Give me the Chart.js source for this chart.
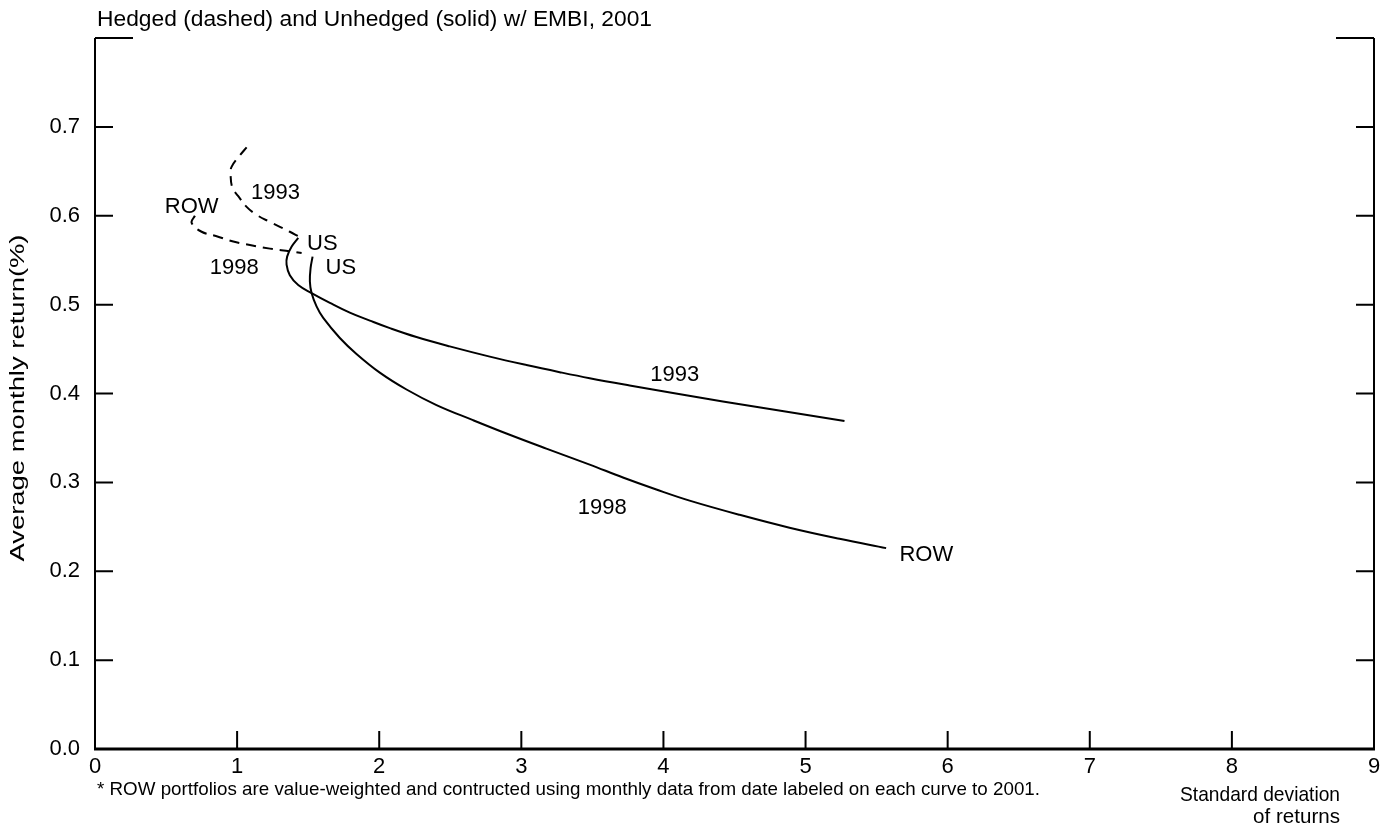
<!DOCTYPE html>
<html>
<head>
<meta charset="utf-8">
<script src="https://cdn.jsdelivr.net/npm/chart.js@4/dist/chart.umd.min.js"></script>
<style>
  body { margin: 0; background: #fff; }
  #wrap { width: 1390px; height: 827px; }
</style>
</head>
<body>
<div id="wrap"><canvas id="frontierChart" width="1390" height="827"></canvas></div>
<script>
// Unhedged (solid) frontiers, from the US point out to ROW
const unhedged93Sd  = [1.430, 1.383, 1.352, 1.348, 1.371, 1.430, 1.524, 1.653, 1.793, 1.934, 2.075, 2.262, 2.496, 2.778, 3.036, 3.270, 3.481, 3.762, 4.067, 4.418, 4.770, 5.274];
const unhedged93Ret = [0.575, 0.565, 0.554, 0.545, 0.533, 0.522, 0.513, 0.502, 0.491, 0.482, 0.4735, 0.4635, 0.453, 0.4415, 0.432, 0.424, 0.4172, 0.409, 0.4005, 0.391, 0.382, 0.369];

const unhedged98Sd  = [1.531, 1.517, 1.512, 1.524, 1.559, 1.606, 1.723, 1.840, 2.004, 2.192, 2.403, 2.660, 2.895, 3.176, 3.481, 3.715, 3.950, 4.184, 4.536, 4.887, 5.239, 5.567];
const unhedged98Ret = [0.554, 0.541, 0.526, 0.513, 0.498, 0.485, 0.4625, 0.4445, 0.4235, 0.4045, 0.387, 0.370, 0.355, 0.338, 0.320, 0.3055, 0.292, 0.2795, 0.2635, 0.249, 0.2365, 0.226];

// Hedged (dashed) frontiers, from ROW to the US point
const hedged93Sd  = [1.067, 1.020, 0.961, 0.954, 0.968, 1.008, 1.067, 1.137, 1.231, 1.371, 1.430];
const hedged93Ret = [0.677, 0.668, 0.655, 0.646, 0.631, 0.622, 0.610, 0.601, 0.593, 0.582, 0.577];

const hedged98Sd  = [0.703, 0.680, 0.750, 0.856, 0.973, 1.090, 1.231, 1.371, 1.454];
const hedged98Ret = [0.600, 0.592, 0.582, 0.577, 0.571, 0.567, 0.563, 0.560, 0.558];

// axis ticks
const xTicks = [0, 1, 2, 3, 4, 5, 6, 7, 8, 9];
const yTicks = [0.0, 0.1, 0.2, 0.3, 0.4, 0.5, 0.6, 0.7, 0.8];

// text written next to the curves (in data units)
const curveLabels = [
    { text: 'ROW',  sd: 0.68, ret: 0.610 },
    { text: '1993', sd: 1.27, ret: 0.626 },
    { text: '1998', sd: 0.98, ret: 0.541 },
    { text: 'US',   sd: 1.60, ret: 0.568 },
    { text: 'US',   sd: 1.73, ret: 0.541 },
    { text: '1993', sd: 4.08, ret: 0.421 },
    { text: '1998', sd: 3.57, ret: 0.271 },
    { text: 'ROW',  sd: 5.85, ret: 0.218 }
];

const FONT = '"Liberation Sans", Arial, sans-serif';

function toPoints(xs, ys) {
    return xs.map((x, i) => ({ x: x, y: ys[i] }));
}

function fitText(ctx, text, x, y, size, width, align, angle) {
    ctx.save();
    ctx.font = size + 'px ' + FONT;
    const sx = width / ctx.measureText(text).width;
    ctx.translate(x, y);
    if (angle) ctx.rotate(angle);
    ctx.scale(sx, 1);
    ctx.textAlign = align;
    ctx.fillStyle = '#000';
    ctx.fillText(text, 0, 0);
    ctx.restore();
}

// axes frame, inward ticks and all the loose text
const framePlugin = {
    id: 'frame',
    afterDraw(chart) {
        const ctx = chart.ctx;
        const a = chart.chartArea;
        const xs = chart.scales.x;
        const ys = chart.scales.y;

        ctx.save();
        ctx.strokeStyle = '#000';
        ctx.lineCap = 'butt';

        ctx.lineWidth = 2;
        ctx.beginPath();
        ctx.moveTo(a.left, a.top); ctx.lineTo(a.left, a.bottom);
        ctx.moveTo(a.right, a.top); ctx.lineTo(a.right, a.bottom);
        ctx.stroke();

        ctx.lineWidth = 3;
        ctx.beginPath();
        ctx.moveTo(a.left - 1, a.bottom); ctx.lineTo(a.right + 1, a.bottom);
        ctx.stroke();

        ctx.lineWidth = 2;
        ctx.beginPath();
        yTicks.forEach(v => {
            if (v === 0) return;
            const py = ys.getPixelForValue(v);
            const len = v >= 0.8 ? 38 : 18;
            ctx.moveTo(a.left, py); ctx.lineTo(a.left + len, py);
            ctx.moveTo(a.right, py); ctx.lineTo(a.right - len, py);
        });
        xTicks.forEach(v => {
            if (v === 0 || v === 9) return;
            const px = xs.getPixelForValue(v);
            ctx.moveTo(px, a.bottom); ctx.lineTo(px, a.bottom - 18);
        });
        ctx.stroke();

        ctx.fillStyle = '#000';
        ctx.font = '22px ' + FONT;
        ctx.textAlign = 'center';
        ctx.textBaseline = 'middle';
        curveLabels.forEach(l => {
            ctx.fillText(l.text, xs.getPixelForValue(l.sd), ys.getPixelForValue(l.ret));
        });
        ctx.textBaseline = 'alphabetic';

        fitText(ctx, 'Hedged (dashed) and Unhedged (solid) w/ EMBI, 2001', 97, 26, 22, 555, 'left');
        fitText(ctx, '* ROW portfolios are value-weighted and contructed using monthly data from date labeled on each curve to 2001.', 97, 795, 19, 943, 'left');
        fitText(ctx, 'Standard deviation', 1340, 801, 21, 160, 'right');
        fitText(ctx, 'of returns', 1340, 823, 21, 87, 'right');

        ctx.textBaseline = 'middle';
        fitText(ctx, 'Average monthly return(%)', 18, 398, 20, 327, 'center', -Math.PI / 2);
        ctx.restore();
    }
};

const solid = { borderColor: '#000', borderWidth: 2, pointRadius: 0, showLine: true, fill: false, tension: 0.4 };
const dashed = Object.assign({}, solid, { borderDash: [10, 7] });

new Chart(document.getElementById('frontierChart').getContext('2d'), {
    type: 'scatter',
    data: {
        datasets: [
            Object.assign({ label: 'Unhedged 1993', data: toPoints(unhedged93Sd, unhedged93Ret) }, solid),
            Object.assign({ label: 'Unhedged 1998', data: toPoints(unhedged98Sd, unhedged98Ret) }, solid),
            Object.assign({ label: 'Hedged 1993', data: toPoints(hedged93Sd, hedged93Ret) }, dashed),
            Object.assign({ label: 'Hedged 1998', data: toPoints(hedged98Sd, hedged98Ret) }, dashed)
        ]
    },
    options: {
        responsive: false,
        animation: false,
        layout: { padding: { top: 38, right: 16, left: 0, bottom: 0 } },
        plugins: {
            legend: { display: false },
            tooltip: { enabled: false },
            title: { display: false }
        },
        scales: {
            x: {
                type: 'linear',
                min: 0,
                max: 9,
                afterFit: s => { s.height = 78; },
                afterBuildTicks: s => { s.ticks = xTicks.map(v => ({ value: v })); },
                grid: { display: false, drawTicks: false },
                border: { display: false },
                ticks: { color: '#000', padding: 5, maxRotation: 0, font: { family: FONT, size: 22 } }
            },
            y: {
                type: 'linear',
                min: 0,
                max: 0.8,
                afterFit: s => { s.width = 95; },
                afterBuildTicks: s => { s.ticks = yTicks.map(v => ({ value: v })); },
                grid: { display: false, drawTicks: false },
                border: { display: false },
                ticks: {
                    color: '#000',
                    padding: 15,
                    font: { family: FONT, size: 22 },
                    callback: v => (v >= 0.79 ? '' : v.toFixed(1))
                }
            }
        }
    },
    plugins: [framePlugin]
});
</script>
</body>
</html>
